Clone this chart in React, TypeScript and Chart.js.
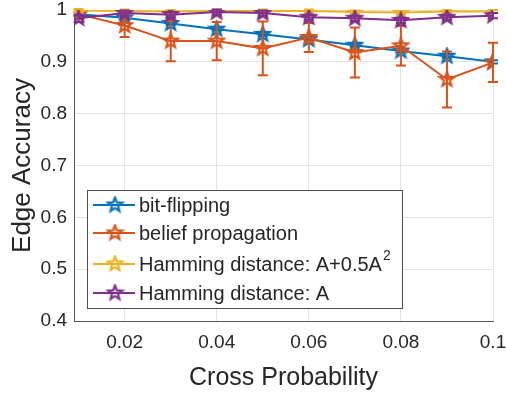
import React, { useEffect, useRef } from "react";
import { Chart, registerables } from "chart.js";

Chart.register(...registerables);

const crossProb = [0.01, 0.02, 0.03, 0.04, 0.05, 0.06, 0.07, 0.08, 0.09, 0.1];
const bitFlipping = [0.992, 0.985, 0.974, 0.963, 0.953, 0.943, 0.932, 0.921, 0.911, 0.9];
const beliefProp = [0.992, 0.97, 0.94, 0.94, 0.926, 0.947, 0.918, 0.931, 0.866, 0.899];
const beliefPropErr = [0.004, 0.022, 0.039, 0.037, 0.052, 0.028, 0.048, 0.038, 0.054, 0.038];
const hammingA2 = [0.999, 0.998, 0.997, 0.998, 0.998, 0.998, 0.996, 0.995, 0.997, 0.997];
const hammingA2Err = [0.003, 0.003, 0.003, 0.003, 0.003, 0.003, 0.003, 0.003, 0.003, 0.003];
const hammingA = [0.984, 0.994, 0.991, 0.996, 0.994, 0.986, 0.984, 0.98, 0.986, 0.989];
const hammingAErr = [0.007, 0.005, 0.005, 0.005, 0.005, 0.005, 0.005, 0.005, 0.005, 0.005];
const bitFlippingErr = [0.003, 0.003, 0.003, 0.003, 0.003, 0.003, 0.003, 0.003, 0.003, 0.003];

const seriesLabels = ["bit-flipping", "belief propagation", "Hamming distance: A+0.5A", "Hamming distance: A"];
const seriesColors = ["#0072BD", "#D95319", "#EDB120", "#7E2F8E"];
const xTicks = [0.02, 0.04, 0.06, 0.08, 0.1];
const yTicks = [0.4, 0.5, 0.6, 0.7, 0.8, 0.9, 1];

function makeStar(color: string, R = 7.5): HTMLCanvasElement {
  const size = Math.ceil(R * 2 + 4);
  const c = document.createElement("canvas");
  c.width = size;
  c.height = size;
  const ctx = c.getContext("2d")!;
  const cx = size / 2;
  const cy = size / 2;
  const r = R * 0.42;
  ctx.beginPath();
  for (let i = 0; i < 10; i++) {
    const ang = -Math.PI / 2 + (i * Math.PI) / 5;
    const rad = i % 2 === 0 ? R : r;
    const px = cx + rad * Math.cos(ang);
    const py = cy + rad * Math.sin(ang);
    if (i === 0) ctx.moveTo(px, py);
    else ctx.lineTo(px, py);
  }
  ctx.closePath();
  ctx.strokeStyle = color;
  ctx.lineWidth = 2.2;
  ctx.lineJoin = "miter";
  ctx.stroke();
  return c;
}

const TEXT = "#262626";
const FONT = "'Liberation Sans', Arial, Helvetica, sans-serif";

export default function App() {
  const ref = useRef<HTMLCanvasElement>(null);

  useEffect(() => {
    if (!ref.current) return;
    const stars = seriesColors.map((c) => makeStar(c));
    const errs = [bitFlippingErr, beliefPropErr, hammingA2Err, hammingAErr];
    const vals = [bitFlipping, beliefProp, hammingA2, hammingA];

    const errorBars = {
      id: "errorBars",
      afterDatasetDraw(chart: any, args: any) {
        const i = args.index;
        const e = errs[i];
        if (!e) return;
        const { ctx } = chart;
        const xs = chart.scales.x;
        const ys = chart.scales.y;
        ctx.save();
        ctx.strokeStyle = seriesColors[i];
        ctx.lineWidth = 2;
        crossProb.forEach((x, k) => {
          const px = xs.getPixelForValue(x);
          const top = ys.getPixelForValue(vals[i][k] + e[k]);
          const bot = ys.getPixelForValue(vals[i][k] - e[k]);
          ctx.beginPath();
          ctx.moveTo(px, top);
          ctx.lineTo(px, bot);
          ctx.moveTo(px - 5, top);
          ctx.lineTo(px + 5, top);
          ctx.moveTo(px - 5, bot);
          ctx.lineTo(px + 5, bot);
          ctx.stroke();
        });
        ctx.restore();
      },
    };

    const legendBox = {
      id: "legendBox",
      afterDraw(chart: any) {
        const { ctx } = chart;
        const x0 = 87, y0 = 190, w = 315, h = 118;
        ctx.save();
        ctx.fillStyle = "#ffffff";
        ctx.fillRect(x0, y0, w, h);
        ctx.strokeStyle = "#4d4d4d";
        ctx.lineWidth = 1;
        ctx.strokeRect(x0 + 0.5, y0 + 0.5, w, h);
        const rowY = [205, 233, 264, 293];
        ctx.textBaseline = "middle";
        seriesLabels.forEach((lab, i) => {
          const y = rowY[i];
          ctx.strokeStyle = seriesColors[i];
          ctx.lineWidth = 2;
          ctx.beginPath();
          ctx.moveTo(93, y);
          ctx.lineTo(135, y);
          ctx.stroke();
          const s = stars[i];
          ctx.drawImage(s, 115 - s.width / 2, y - s.height / 2);
          ctx.fillStyle = TEXT;
          ctx.font = `20px ${FONT}`;
          ctx.fillText(lab, 139, y + 1);
          if (i === 2) {
            const wd = ctx.measureText(lab).width;
            ctx.font = `14px ${FONT}`;
            ctx.fillText("2", 139 + wd + 1, y - 8);
          }
        });
        ctx.restore();
      },
    };

    const chart = new Chart(ref.current, {
      type: "line",
      data: {
        datasets: seriesLabels.map((lab, i) => ({
          label: lab,
          data: crossProb.map((x, k) => ({ x, y: vals[i][k] })),
          borderColor: seriesColors[i],
          backgroundColor: seriesColors[i],
          borderWidth: 2,
          pointStyle: stars[i] as any,
          pointRadius: 7,
          order: 4 - i,
          tension: 0,
        })),
      },
      options: {
        animation: false,
        responsive: false,
        devicePixelRatio: 1,
        layout: { padding: { top: 10, right: 14, left: 0, bottom: 0 } },
        plugins: { legend: { display: false }, tooltip: { enabled: false } },
        scales: {
          x: {
            type: "linear",
            min: 0.009,
            max: 0.1,
            afterBuildTicks: (s: any) => {
              s.ticks = xTicks.map((v) => ({ value: v }));
            },
            afterFit: (s: any) => {
              s.height = 76;
              s.paddingLeft = 0;
              s.paddingRight = 0;
            },
            ticks: {
              autoSkip: false,
              maxRotation: 0,
              padding: 10,
              color: TEXT,
              font: { size: 19, family: FONT },
              callback: (v: any) => String(Number(v)),
            },
            grid: { color: "#e3e3e3", drawTicks: false },
            border: { color: "#555555", width: 1 },
            title: {
              display: true,
              text: "Cross Probability",
              color: TEXT,
              font: { size: 25, family: FONT },
              padding: { top: 4 },
            },
          },
          y: {
            min: 0.4,
            max: 1,
            afterBuildTicks: (s: any) => {
              s.ticks = yTicks.map((v) => ({ value: v }));
            },
            afterFit: (s: any) => {
              s.width = 74;
              s.paddingTop = 0;
              s.paddingBottom = 0;
            },
            ticks: {
              padding: 7,
              color: TEXT,
              font: { size: 19, family: FONT },
              callback: (v: any) => (Number(v) === 1 ? "1" : Number(v).toFixed(1)),
            },
            grid: { color: "#e3e3e3", drawTicks: false },
            border: { color: "#555555", width: 1 },
            title: {
              display: true,
              text: "Edge Accuracy",
              color: TEXT,
              font: { size: 26, family: FONT },
              padding: { top: 7, bottom: 0 },
            },
          },
        },
      },
      plugins: [errorBars, legendBox],
    });
    return () => chart.destroy();
  }, []);

  return (
    <div style={{ position: "absolute", left: 0, top: 0, width: 507, height: 397, background: "#fff" }}>
      <canvas ref={ref} width={507} height={397} style={{ display: "block", width: 507, height: 397 }} />
    </div>
  );
}
